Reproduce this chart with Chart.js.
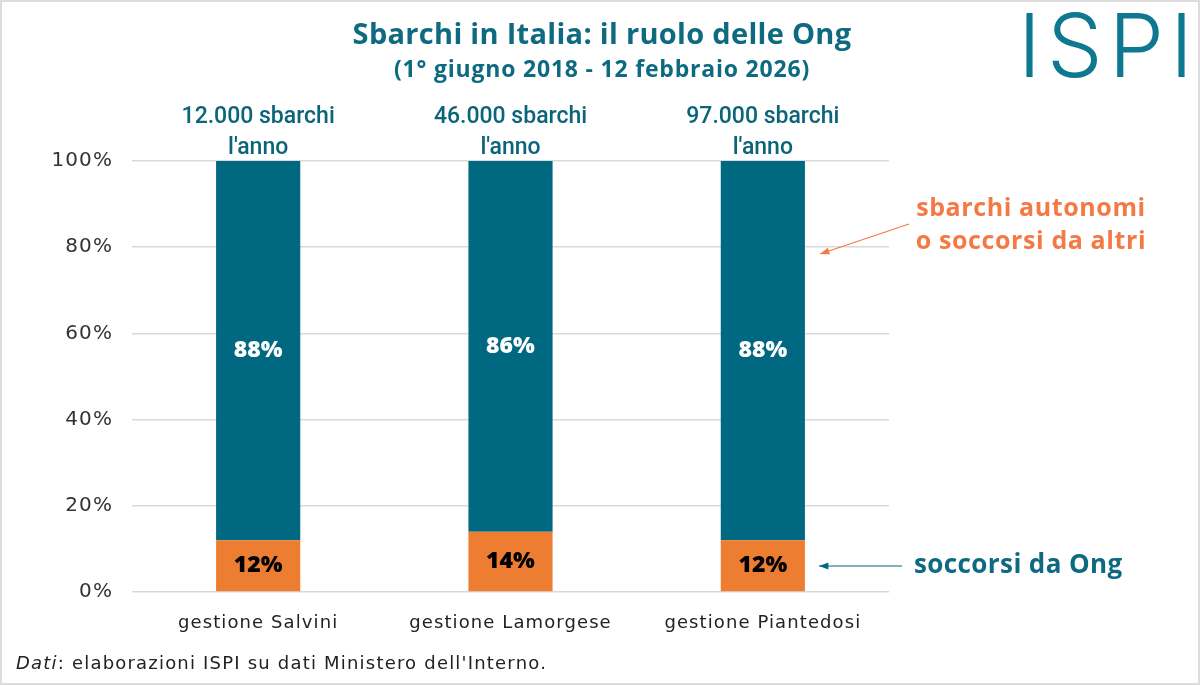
<!DOCTYPE html>
<html>
<head>
<meta charset="utf-8">
<script src="https://cdn.jsdelivr.net/npm/chart.js"></script>
<style>
  html, body { margin: 0; padding: 0; background: #fff; }
  #wrap { position: relative; width: 1200px; height: 685px; box-sizing: border-box; border: 2px solid #dcdcdc; overflow: hidden; }
  #chart { position: absolute; left: 0; top: 0; }
  .t { position: absolute; white-space: nowrap; font-family: "Open Sans", sans-serif; }
  #title { left: 0; width: 1200px; top: 11px; text-align: center; color: #0d6a80; font-weight: 700; font-size: 29px; letter-spacing: 0.3px; }
  #subtitle { left: 0; width: 1200px; top: 50px; text-align: center; color: #0d6a80; font-weight: 700; font-size: 23px; letter-spacing: 0.8px; }
  #logo { left: 1016px; top: -10px; color: #0f7891; font-family: Inter, sans-serif; font-weight: 300; font-size: 88px; letter-spacing: 6px; }
  #note1 { left: 899px; width: 260px; top: 188px; text-align: center; color: #f47a45; font-weight: 700; font-size: 25px; line-height: 33px; letter-spacing: 0.6px; }
  #note2 { left: 912px; top: 543px; color: #0d6a80; font-weight: 700; font-size: 26px; letter-spacing: 0.4px; }
  #source { left: 14px; top: 650px; color: #222; font-family: "DejaVu Sans", sans-serif; font-size: 18px; letter-spacing: 1.2px; }
</style>
</head>
<body>
<div id="wrap">
  <canvas id="chart" width="1200" height="685"></canvas>
  <div class="t" id="title">Sbarchi in Italia: il ruolo delle Ong</div>
  <div class="t" id="subtitle">(1° giugno 2018 - 12 febbraio 2026)</div>
  <div class="t" id="logo">ISPI</div>
  <div class="t" id="note1">sbarchi autonomi<br>o soccorsi da altri</div>
  <div class="t" id="note2">soccorsi da Ong</div>
  <div class="t" id="source"><i>Dati</i>: elaborazioni ISPI su dati Ministero dell'Interno.</div>
</div>
<script>
  // data
  const categories = ['gestione Salvini', 'gestione Lamorgese', 'gestione Piantedosi'];
  const ongShare = [12, 14, 12];
  const otherShare = [88, 86, 88];
  const yearlyLabels = [['12.000 sbarchi', "l'anno"], ['46.000 sbarchi', "l'anno"], ['97.000 sbarchi', "l'anno"]];

  const teal = '#006880';
  const orange = '#ed7d31';

  // wider letter spacing for the axis labels
  const spacing = {
    id: 'spacing',
    beforeDraw(chart) { chart.ctx.letterSpacing = '1.1px'; }
  };

  const barLabels = {
    id: 'barLabels',
    afterDatasetsDraw(chart) {
      const ctx = chart.ctx;
      ctx.save();
      ctx.letterSpacing = '0px';
      ctx.textAlign = 'center';
      ctx.textBaseline = 'middle';
      ctx.font = '800 23px "Open Sans", sans-serif';
      chart.data.datasets.forEach((ds, di) => {
        chart.getDatasetMeta(di).data.forEach((bar, i) => {
          ctx.fillStyle = di === 0 ? '#000' : '#fff';
          ctx.fillText(ds.data[i] + '%', bar.x, (bar.y + bar.base) / 2);
        });
      });
      // labels above each bar
      ctx.fillStyle = '#0b6479';
      ctx.font = '500 23px Roboto, sans-serif';
      const top = chart.scales.y.getPixelForValue(100);
      chart.getDatasetMeta(1).data.forEach((bar, i) => {
        ctx.fillText(yearlyLabels[i][0], bar.x, top - 44);
        ctx.fillText(yearlyLabels[i][1], bar.x, top - 13);
      });
      // arrows
      const arrow = (x1, y1, x2, y2, col) => {
        ctx.strokeStyle = col; ctx.fillStyle = col; ctx.lineWidth = 1.2;
        ctx.beginPath(); ctx.moveTo(x1, y1); ctx.lineTo(x2, y2); ctx.stroke();
        const a = Math.atan2(y2 - y1, x2 - x1);
        ctx.beginPath();
        ctx.moveTo(x2, y2);
        ctx.lineTo(x2 - 10 * Math.cos(a - 0.35), y2 - 10 * Math.sin(a - 0.35));
        ctx.lineTo(x2 - 10 * Math.cos(a + 0.35), y2 - 10 * Math.sin(a + 0.35));
        ctx.closePath(); ctx.fill();
      };
      arrow(907, 222, 818, 252, '#f47a45');
      arrow(900, 564, 817, 564, teal);
      ctx.restore();
    }
  };

  new Chart(document.getElementById('chart'), {
    type: 'bar',
    data: {
      labels: categories,
      datasets: [
        { label: 'soccorsi da Ong', data: ongShare, backgroundColor: orange, barPercentage: 0.667, categoryPercentage: 0.5 },
        { label: 'sbarchi autonomi o soccorsi da altri', data: otherShare, backgroundColor: teal, barPercentage: 0.667, categoryPercentage: 0.5 }
      ]
    },
    options: {
      responsive: false,
      animation: false,
      layout: { padding: { left: 40, right: 313, top: 159, bottom: 45 } },
      plugins: { legend: { display: false }, tooltip: { enabled: false } },
      scales: {
        x: {
          stacked: true,
          grid: { display: false },
          border: { display: false },
          ticks: { color: '#222', font: { family: '"DejaVu Sans", sans-serif', size: 18 }, padding: 13 },
          afterFit: s => { s.height = 50; }
        },
        y: {
          stacked: true,
          min: 0, max: 100,
          grid: { color: '#d9d9d9', lineWidth: 1.5, drawTicks: false },
          border: { display: false },
          ticks: { stepSize: 20, padding: 19, color: '#333', font: { family: '"DejaVu Sans", sans-serif', size: 20 }, callback: v => v + '%' },
          afterFit: s => { s.width = 90; }
        }
      }
    },
    plugins: [spacing, barLabels]
  });
</script>
</body>
</html>
